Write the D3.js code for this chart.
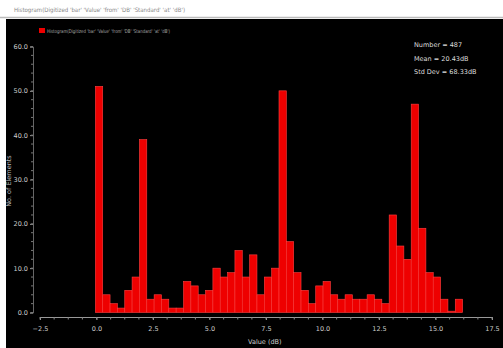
<!DOCTYPE html>
<html><head><meta charset="utf-8">
<script src="https://cdn.jsdelivr.net/npm/d3@7"></script>
<style>body{margin:0;background:#fff;}svg{display:block;}text{font-family:"DejaVu Sans",sans-serif;}</style>
</head><body><div id="c"></div>
<script>
// Data
const binStart = -0.05;
const binWidth = 0.325;
const counts = [51,4,2,1,5,8,39,3,4,3,1,1,7,6,4,5,10,8,9,14,8,13,4,8,10,
                50,16,9,5,2,6,7,4,3,4,3,3,4,3,2,22,15,12,47,19,9,8,3,0.3,3];
const xTicks = [-2.5,0,2.5,5,7.5,10,12.5,15,17.5];
const yTicks = [0,10,20,30,40,50,60];
const titleText = "Histogram(Digitized 'bar' 'Value' 'from' 'DB' 'Standard' 'at' 'dB')";
const legendText = "Histogram(Digitized 'bar' 'Value' 'from' 'DB' 'Standard' 'at' 'dB')";
const stats = ["Number = 487", "Mean = 20.43dB", "Std Dev = 68.33dB"];

const W = 503, H = 348;
const svg = d3.select("#c").append("svg").attr("width", W).attr("height", H);

svg.append("rect").attr("x",0).attr("y",0).attr("width",W).attr("height",H).attr("fill","#fff");
svg.append("line").attr("x1",0).attr("x2",W).attr("y1",17.5).attr("y2",17.5).attr("stroke","#bbb").attr("stroke-width",1.5);
svg.append("rect").attr("x",6).attr("y",19).attr("width",W-6).attr("height",H-19).attr("fill","#000");

svg.append("text").attr("x",14).attr("y",12).attr("font-size",6).attr("fill","#888")
  .attr("textLength",171).attr("lengthAdjust","spacingAndGlyphs").text(titleText);

const x = d3.scaleLinear().domain([-2.5,17.5]).range([40,492]);
const y = d3.scaleLinear().domain([0,60]).range([312.5,46.5]);

// bars
svg.append("g").selectAll("rect").data(counts).join("rect")
  .attr("x",(d,i)=>x(binStart+i*binWidth))
  .attr("width",(d,i)=>x(binStart+(i+1)*binWidth)-x(binStart+i*binWidth))
  .attr("y",d=>y(d))
  .attr("height",d=>y(0)-y(d))
  .attr("fill","#ee0000").attr("stroke","#ff4040").attr("stroke-width",0.6);

// x axis
const xAxis = d3.axisBottom(x).tickValues(xTicks).tickFormat(d3.format(".1f")).tickSize(3);
const gx = svg.append("g").attr("transform","translate(0,317)").call(xAxis);
gx.select(".domain").attr("stroke","#999");
gx.selectAll(".tick line").attr("stroke","#999");
gx.selectAll("text").attr("fill","#ccc").attr("font-size",6.5).attr("dy","1.3em");
const xMinor = d3.range(-2.5,17.51,0.625);
svg.append("g").selectAll("line").data(xMinor).join("line")
  .attr("x1",d=>x(d)).attr("x2",d=>x(d)).attr("y1",317).attr("y2",319.5)
  .attr("stroke","#888").attr("stroke-width",1);
svg.append("text").attr("x",248).attr("y",344).attr("font-size",6.5).attr("fill","#ccc").text("Value (dB)");

// y axis
const yAxis = d3.axisLeft(y).tickValues(yTicks).tickFormat(d3.format(".1f")).tickSize(3);
const gy = svg.append("g").attr("transform","translate(33,0)").call(yAxis);
gy.select(".domain").attr("stroke","#666");
gy.selectAll(".tick line").attr("stroke","#999");
gy.selectAll("text").attr("fill","#ccc").attr("font-size",6.5).attr("x",-5);
const yMinor = d3.range(0,60.01,2);
svg.append("g").selectAll("line").data(yMinor).join("line")
  .attr("x1",31).attr("x2",33).attr("y1",d=>y(d)).attr("y2",d=>y(d))
  .attr("stroke","#777").attr("stroke-width",1);
svg.append("text").attr("transform","translate(11,181) rotate(-90)").attr("text-anchor","middle")
  .attr("font-size",6.5).attr("fill","#bbb").text("No. of Elements");

// legend
svg.append("rect").attr("x",39).attr("y",28).attr("width",6).attr("height",5).attr("fill","#ee0000");
svg.append("text").attr("x",47).attr("y",32.5).attr("font-size",5).attr("fill","#aaa")
  .attr("textLength",123).attr("lengthAdjust","spacingAndGlyphs").text(legendText);

// stats
svg.append("g").selectAll("text").data(stats).join("text")
  .attr("x",414).attr("y",(d,i)=>47+i*13.5).attr("font-size",6.5).attr("fill","#ddd").text(d=>d);
</script></body></html>
